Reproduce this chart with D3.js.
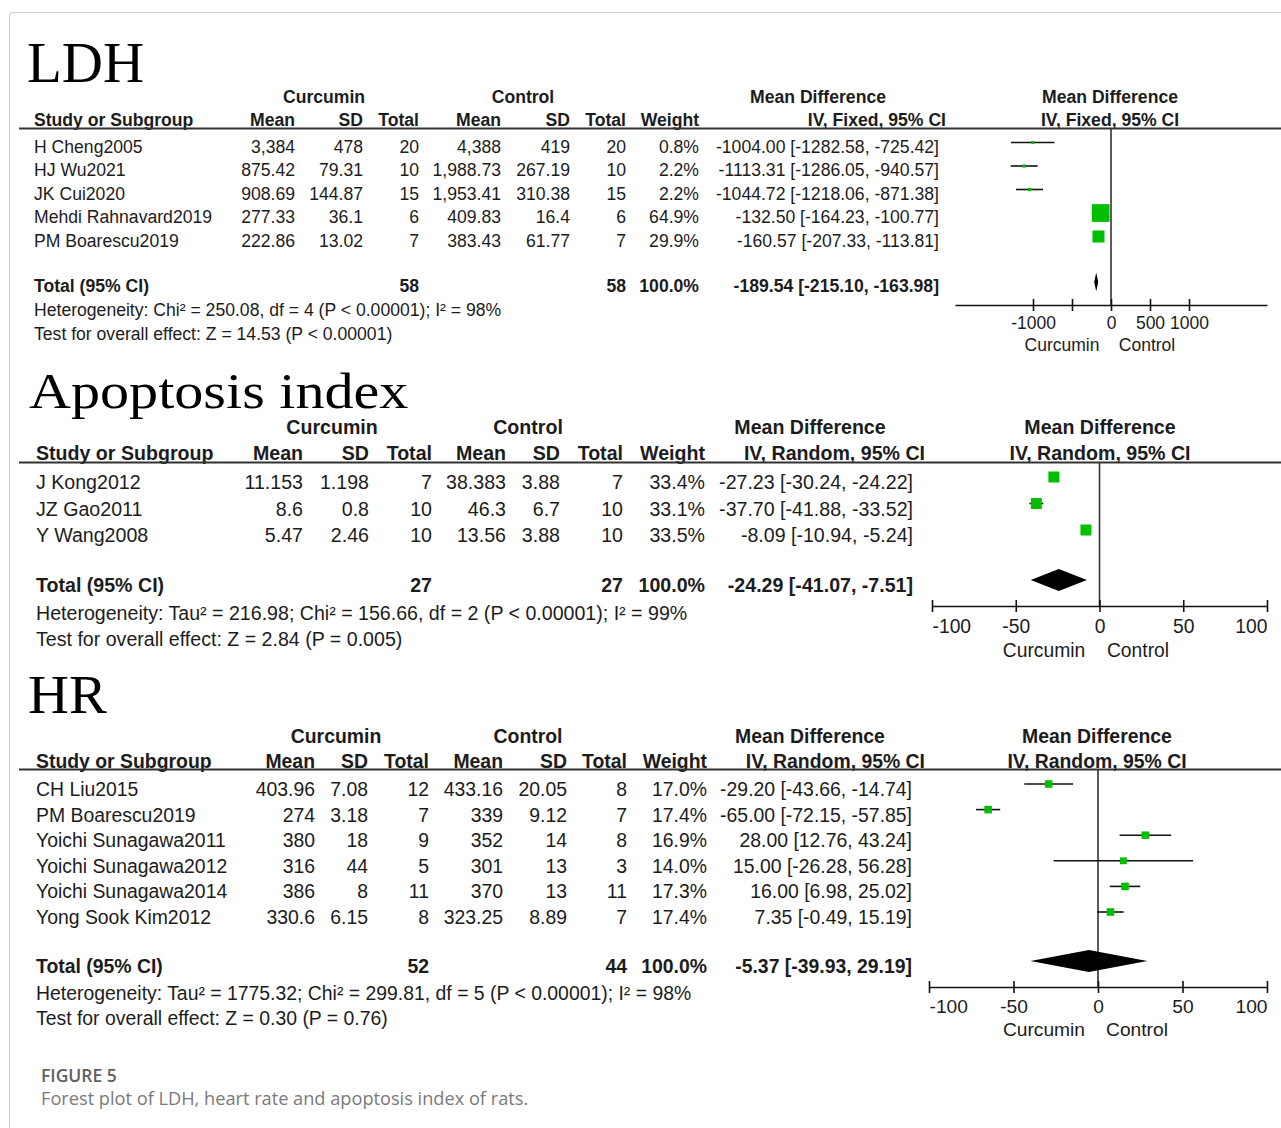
<!DOCTYPE html>
<html>
<head>
<meta charset="utf-8">
<script src="https://cdn.jsdelivr.net/npm/d3@7/dist/d3.min.js"></script>
<style>
  html, body { margin: 0; padding: 0; background: #fff; }
  svg { display: block; }
</style>
</head>
<body>
<div id="chart"></div>
<script>
// ---------- LDH ----------
const ldhStudies = ["H Cheng2005", "HJ Wu2021", "JK Cui2020", "Mehdi Rahnavard2019", "PM Boarescu2019"];
const ldhCurMean = [3384, 875.42, 908.69, 277.33, 222.86];
const ldhCurSD   = [478, 79.31, 144.87, 36.1, 13.02];
const ldhCurN    = [20, 10, 15, 6, 7];
const ldhCtlMean = [4388, 1988.73, 1953.41, 409.83, 383.43];
const ldhCtlSD   = [419, 267.19, 310.38, 16.4, 61.77];
const ldhCtlN    = [20, 10, 15, 6, 7];
const ldhWeight  = [0.8, 2.2, 2.2, 64.9, 29.9];
const ldhMD      = [-1004.00, -1113.31, -1044.72, -132.50, -160.57];
const ldhLo      = [-1282.58, -1286.05, -1218.06, -164.23, -207.33];
const ldhHi      = [-725.42, -940.57, -871.38, -100.77, -113.81];
const ldhPooled  = [-189.54, -215.10, -163.98];   // md, lower, upper
const ldhTotals  = [58, 58];
const ldhHet     = "Heterogeneity: Chi\u00B2 = 250.08, df = 4 (P < 0.00001); I\u00B2 = 98%";
const ldhEffect  = "Test for overall effect: Z = 14.53 (P < 0.00001)";
const ldhDomain  = [-2000, 2000];
const ldhTicks   = [-1000, -500, 0, 500, 1000];
const ldhTickLabels = ["-1000", "", "0", "500", "1000"];

// ---------- Apoptosis index ----------
const apoStudies = ["J Kong2012", "JZ Gao2011", "Y Wang2008"];
const apoCurMean = [11.153, 8.6, 5.47];
const apoCurSD   = [1.198, 0.8, 2.46];
const apoCurN    = [7, 10, 10];
const apoCtlMean = [38.383, 46.3, 13.56];
const apoCtlSD   = [3.88, 6.7, 3.88];
const apoCtlN    = [7, 10, 10];
const apoWeight  = [33.4, 33.1, 33.5];
const apoMD      = [-27.23, -37.70, -8.09];
const apoLo      = [-30.24, -41.88, -10.94];
const apoHi      = [-24.22, -33.52, -5.24];
const apoPooled  = [-24.29, -41.07, -7.51];
const apoTotals  = [27, 27];
const apoHet     = "Heterogeneity: Tau\u00B2 = 216.98; Chi\u00B2 = 156.66, df = 2 (P < 0.00001); I\u00B2 = 99%";
const apoEffect  = "Test for overall effect: Z = 2.84 (P = 0.005)";
const apoDomain  = [-100, 100];
const apoTicks   = [-100, -50, 0, 50, 100];
const apoTickLabels = ["-100", "-50", "0", "50", "100"];

// ---------- HR ----------
const hrStudies = ["CH Liu2015", "PM Boarescu2019", "Yoichi Sunagawa2011", "Yoichi Sunagawa2012", "Yoichi Sunagawa2014", "Yong Sook Kim2012"];
const hrCurMean = [403.96, 274, 380, 316, 386, 330.6];
const hrCurSD   = [7.08, 3.18, 18, 44, 8, 6.15];
const hrCurN    = [12, 7, 9, 5, 11, 8];
const hrCtlMean = [433.16, 339, 352, 301, 370, 323.25];
const hrCtlSD   = [20.05, 9.12, 14, 13, 13, 8.89];
const hrCtlN    = [8, 7, 8, 3, 11, 7];
const hrWeight  = [17.0, 17.4, 16.9, 14.0, 17.3, 17.4];
const hrMD      = [-29.20, -65.00, 28.00, 15.00, 16.00, 7.35];
const hrLo      = [-43.66, -72.15, 12.76, -26.28, 6.98, -0.49];
const hrHi      = [-14.74, -57.85, 43.24, 56.28, 25.02, 15.19];
const hrPooled  = [-5.37, -39.93, 29.19];
const hrTotals  = [52, 44];
const hrHet     = "Heterogeneity: Tau\u00B2 = 1775.32; Chi\u00B2 = 299.81, df = 5 (P < 0.00001); I\u00B2 = 98%";
const hrEffect  = "Test for overall effect: Z = 0.30 (P = 0.76)";
const hrDomain  = [-100, 100];
const hrTicks   = [-100, -50, 0, 50, 100];
const hrTickLabels = ["-100", "-50", "0", "50", "100"];

const SANS  = "'Liberation Sans', Arial, Helvetica, sans-serif";
const SERIF = "'Liberation Serif', 'Times New Roman', serif";
const INK   = "#1c1c1c";
const GREEN = "#00bf00";

const W = 1281, H = 1128;
const svg = d3.select("#chart").append("svg").attr("width", W).attr("height", H);
svg.append("rect").attr("width", W).attr("height", H).attr("fill", "#fff");

// figure frame (top and left edges)
svg.append("path")
  .attr("d", `M9.5,${H} V16 Q9.5,12.5 13,12.5 H${W}`)
  .attr("fill", "none").attr("stroke", "#cdcdcd").attr("stroke-width", 1);

const num = d3.format(",");
const fix2 = v => v.toFixed(2);
const ciText = (m, l, h) => `${fix2(m)} [${fix2(l)}, ${fix2(h)}]`;

function drawPanel(d, L) {
  const g = svg.append("g")
    .attr("font-family", SANS).attr("font-size", L.fs).attr("fill", INK);

  // panel title (serif, slightly widened)
  svg.append("text")
    .attr("transform", `translate(${L.titleX},${L.titleY}) scale(${L.titleSx},1)`)
    .attr("font-family", SERIF).attr("font-size", L.titleSize).attr("fill", "#000")
    .text(d.title);

  const txt = (x, y, s, anchor, bold) => g.append("text")
    .attr("x", x).attr("y", y).attr("text-anchor", anchor)
    .attr("font-weight", bold ? "bold" : null).text(s);

  // header, first line
  txt(L.curC, L.h1, "Curcumin", "middle", true);
  txt(L.ctlC, L.h1, "Control", "middle", true);
  txt(L.mdC, L.h1, "Mean Difference", "middle", true);
  txt(L.fxC, L.h1, "Mean Difference", "middle", true);

  // header, second line
  const c = L.cols;
  txt(L.studyX, L.h2, "Study or Subgroup", "start", true);
  txt(c.curMean, L.h2, "Mean", "end", true);
  txt(c.curSD, L.h2, "SD", "end", true);
  txt(c.curN, L.h2, "Total", "end", true);
  txt(c.ctlMean, L.h2, "Mean", "end", true);
  txt(c.ctlSD, L.h2, "SD", "end", true);
  txt(c.ctlN, L.h2, "Total", "end", true);
  txt(c.weight, L.h2, "Weight", "end", true);
  txt(c.ciHdr, L.h2, d.method, "end", true);
  txt(L.fxC, L.h2, d.method, "middle", true);

  g.append("line")
    .attr("x1", L.lineX0).attr("x2", W).attr("y1", L.lineY).attr("y2", L.lineY)
    .attr("stroke", "#333").attr("stroke-width", 1.8);

  // study rows
  const rowY = d3.scaleLinear().domain([0, 1]).range([L.row0, L.row0 + L.step]);
  const rows = d.studies.map((s, i) => ({
    i, s,
    cm: d.curMean[i], cs: d.curSD[i], cn: d.curN[i],
    tm: d.ctlMean[i], ts: d.ctlSD[i], tn: d.ctlN[i],
    w: d.weight[i], md: d.md[i], lo: d.lo[i], hi: d.hi[i]
  }));

  const rg = g.selectAll("g.row").data(rows).join("g")
    .attr("class", "row")
    .attr("transform", r => `translate(0,${rowY(r.i)})`);
  const cell = (x, anchor, f) => rg.append("text").attr("x", x).attr("text-anchor", anchor).text(f);
  cell(L.studyX, "start", r => r.s);
  cell(c.curMean, "end", r => num(r.cm));
  cell(c.curSD, "end", r => num(r.cs));
  cell(c.curN, "end", r => r.cn);
  cell(c.ctlMean, "end", r => num(r.tm));
  cell(c.ctlSD, "end", r => num(r.ts));
  cell(c.ctlN, "end", r => r.tn);
  cell(c.weight, "end", r => r.w.toFixed(1) + "%");
  cell(c.ci, "end", r => ciText(r.md, r.lo, r.hi));

  // totals and footnotes
  txt(L.studyX, L.totalY, "Total (95% CI)", "start", true);
  txt(c.curN, L.totalY, d.totals[0], "end", true);
  txt(c.ctlN, L.totalY, d.totals[1], "end", true);
  txt(c.weight, L.totalY, "100.0%", "end", true);
  txt(c.ci, L.totalY, ciText(d.pooled[0], d.pooled[1], d.pooled[2]), "end", true);
  txt(L.studyX, L.hetY, d.het, "start", false);
  txt(L.studyX, L.effY, d.effect, "start", false);

  // forest plot
  const x = d3.scaleLinear().domain(d.domain).range([L.fx0, L.fx1]);
  const box = d3.scaleSqrt().domain([0, 100]).range([0, L.boxK * 10]);
  const side = w => Math.max(box(w), 3);
  const fg = svg.append("g");

  fg.append("line")
    .attr("x1", x(0)).attr("x2", x(0)).attr("y1", L.lineY).attr("y2", L.axisY)
    .attr("stroke", "#333").attr("stroke-width", 1.6);

  fg.selectAll("line.ci").data(rows).join("line")
    .attr("class", "ci")
    .attr("x1", r => x(r.lo)).attr("x2", r => x(r.hi))
    .attr("y1", r => rowY(r.i) + L.mo).attr("y2", r => rowY(r.i) + L.mo)
    .attr("stroke", "#111").attr("stroke-width", 1.6);

  fg.selectAll("rect.box").data(rows).join("rect")
    .attr("class", "box")
    .attr("x", r => x(r.md) - side(r.w) / 2)
    .attr("y", r => rowY(r.i) + L.mo - side(r.w) / 2)
    .attr("width", r => side(r.w))
    .attr("height", r => side(r.w))
    .attr("fill", GREEN);

  const yc = L.totalY + L.mo, hh = L.diamondH / 2;
  fg.append("polygon")
    .attr("points", [
      [x(d.pooled[1]), yc], [x(d.pooled[0]), yc - hh],
      [x(d.pooled[2]), yc], [x(d.pooled[0]), yc + hh]
    ].map(p => p.join(",")).join(" "))
    .attr("fill", "#000");

  const axis = d3.axisBottom(x)
    .tickValues(d.ticks)
    .tickFormat((v, i) => d.tickLabels[i])
    .tickSizeOuter(0);
  const ag = fg.append("g").attr("transform", `translate(0,${L.axisY})`).call(axis);
  ag.attr("font-family", SANS).attr("font-size", L.axisFs);
  ag.select(".domain").attr("stroke", "#111").attr("stroke-width", 1.6);
  ag.selectAll(".tick line").attr("y1", -6).attr("y2", 6).attr("stroke", "#111").attr("stroke-width", 1.6);
  // labels at the very ends of the scale are kept inside it
  ag.selectAll(".tick text")
    .attr("y", L.tickDy).attr("dy", null).attr("fill", INK)
    .attr("text-anchor", v => v === d.domain[0] ? "start" : v === d.domain[1] ? "end" : "middle");

  fg.append("text").attr("x", L.curLabX).attr("y", L.sideY).attr("text-anchor", "middle")
    .attr("font-family", SANS).attr("font-size", L.axisFs).attr("fill", INK).text("Curcumin");
  fg.append("text").attr("x", L.ctlLabX).attr("y", L.sideY).attr("text-anchor", "middle")
    .attr("font-family", SANS).attr("font-size", L.axisFs).attr("fill", INK).text("Control");
}

drawPanel(
  { title: "LDH", method: "IV, Fixed, 95% CI", studies: ldhStudies,
    curMean: ldhCurMean, curSD: ldhCurSD, curN: ldhCurN,
    ctlMean: ldhCtlMean, ctlSD: ldhCtlSD, ctlN: ldhCtlN,
    weight: ldhWeight, md: ldhMD, lo: ldhLo, hi: ldhHi,
    pooled: ldhPooled, totals: ldhTotals, het: ldhHet, effect: ldhEffect,
    domain: ldhDomain, ticks: ldhTicks, tickLabels: ldhTickLabels },
  { titleX: 27, titleY: 82, titleSize: 57, titleSx: 1.0, fs: 17.6, studyX: 34,
    h1: 103, h2: 126, lineY: 128.5, lineX0: 19,
    curC: 324, ctlC: 523, mdC: 818, fxC: 1110,
    cols: { curMean: 295, curSD: 363, curN: 419, ctlMean: 501, ctlSD: 570, ctlN: 626, weight: 699, ci: 939, ciHdr: 946 },
    row0: 152.5, step: 23.5, totalY: 292, hetY: 316, effY: 340,
    fx0: 955, fx1: 1267, mo: -10, boxK: 2.2, diamondH: 19,
    axisY: 305, axisFs: 17.5, tickDy: 24, sideY: 351, curLabX: 1062, ctlLabX: 1147 }
);

drawPanel(
  { title: "Apoptosis index", method: "IV, Random, 95% CI", studies: apoStudies,
    curMean: apoCurMean, curSD: apoCurSD, curN: apoCurN,
    ctlMean: apoCtlMean, ctlSD: apoCtlSD, ctlN: apoCtlN,
    weight: apoWeight, md: apoMD, lo: apoLo, hi: apoHi,
    pooled: apoPooled, totals: apoTotals, het: apoHet, effect: apoEffect,
    domain: apoDomain, ticks: apoTicks, tickLabels: apoTickLabels },
  { titleX: 29, titleY: 408, titleSize: 51, titleSx: 1.14, fs: 19.6, studyX: 36,
    h1: 434, h2: 460, lineY: 462.5, lineX0: 19,
    curC: 332, ctlC: 528, mdC: 810, fxC: 1100,
    cols: { curMean: 303, curSD: 369, curN: 432, ctlMean: 506, ctlSD: 560, ctlN: 623, weight: 705, ci: 913, ciHdr: 925 },
    row0: 489, step: 26.5, totalY: 592, hetY: 620, effY: 646,
    fx0: 932, fx1: 1267, mo: -12, boxK: 1.9, diamondH: 22,
    axisY: 606, axisFs: 19.3, tickDy: 27, sideY: 657, curLabX: 1044, ctlLabX: 1138 }
);

drawPanel(
  { title: "HR", method: "IV, Random, 95% CI", studies: hrStudies,
    curMean: hrCurMean, curSD: hrCurSD, curN: hrCurN,
    ctlMean: hrCtlMean, ctlSD: hrCtlSD, ctlN: hrCtlN,
    weight: hrWeight, md: hrMD, lo: hrLo, hi: hrHi,
    pooled: hrPooled, totals: hrTotals, het: hrHet, effect: hrEffect,
    domain: hrDomain, ticks: hrTicks, tickLabels: hrTickLabels },
  { titleX: 28, titleY: 713, titleSize: 54, titleSx: 1.05, fs: 19.4, studyX: 36,
    h1: 743, h2: 768, lineY: 769.5, lineX0: 19,
    curC: 336, ctlC: 528, mdC: 810, fxC: 1097,
    cols: { curMean: 315, curSD: 368, curN: 429, ctlMean: 503, ctlSD: 567, ctlN: 627, weight: 707, ci: 912, ciHdr: 925 },
    row0: 796, step: 25.6, totalY: 973, hetY: 1000, effY: 1025,
    fx0: 929, fx1: 1267, mo: -12, boxK: 1.82, diamondH: 22,
    axisY: 987, axisFs: 19.2, tickDy: 26, sideY: 1036, curLabX: 1044, ctlLabX: 1137 }
);

// caption
svg.append("text").attr("x", 41).attr("y", 1082)
  .attr("font-family", "'Open Sans', 'Noto Sans', sans-serif").attr("font-weight", 600)
  .attr("font-size", 17.5).attr("fill", "#5f5f5f").text("FIGURE 5");
svg.append("text").attr("x", 41).attr("y", 1105)
  .attr("font-family", "'Open Sans', 'Noto Sans', sans-serif")
  .attr("font-size", 18.2).attr("fill", "#7a7a7a")
  .text("Forest plot of LDH, heart rate and apoptosis index of rats.");
</script>
</body>
</html>
